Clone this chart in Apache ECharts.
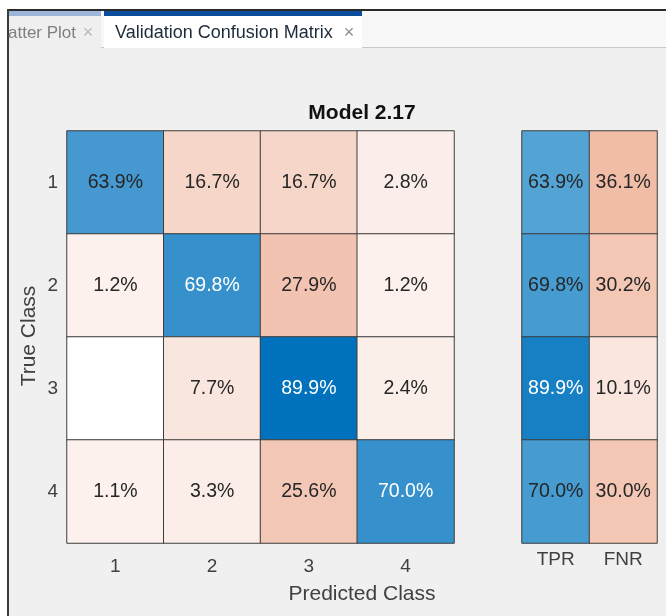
<!DOCTYPE html>
<html>
<head>
<meta charset="utf-8">
<script src="https://cdn.jsdelivr.net/npm/echarts@6/dist/echarts.min.js"></script>
<style>
html,body{margin:0;padding:0;background:#f0f0f0;}
#chart{width:666px;height:616px;}
</style>
</head>
<body>
<div id="chart"></div>
<script>
// ---- data ----
const predictedClasses = ['1', '2', '3', '4'];
const trueClasses = ['1', '2', '3', '4'];
const summaryColumns = ['TPR', 'FNR'];
const class1Row = [63.9, 16.7, 16.7, 2.8];
const class2Row = [1.2, 69.8, 27.9, 1.2];
const class3Row = [0, 7.7, 89.9, 2.4];
const class4Row = [1.1, 3.3, 25.6, 70.0];
const tprValues = [63.9, 69.8, 89.9, 70.0];
const fnrValues = [36.1, 30.2, 10.1, 30.0];
const chartTitle = 'Model 2.17';
const xAxisTitle = 'Predicted Class';
const yAxisTitle = 'True Class';
const tabLabels = ['atter Plot', 'Validation Confusion Matrix'];

// ---- colour scales ----
const FONT = '"Liberation Sans", Arial, Helvetica, sans-serif';
const rows = [class1Row, class2Row, class3Row, class4Row];
const diagMax = Math.max(...rows.map((r, i) => r[i]));
function mix(c0, c1, t) {
  t = Math.max(0, Math.min(1, t));
  return c0.map((v, k) => Math.round(v + (c1[k] - v) * t));
}
function scale(c0, c1, max) {
  return v => v === 0 ? [255, 255, 255] : mix(c0, c1, v / max);
}
const diagScale = scale([238, 249, 255], [0, 114, 189], diagMax);
const offScale = scale([252, 243, 240], [217, 83, 25], 93);
const tprScale = scale([232, 250, 255], [0, 114, 189], 100);
const fnrScale = scale([254, 246, 243], [217, 83, 25], 104);
function item(x, y, v, sc) {
  const c = sc(v);
  const lum = 0.299 * c[0] + 0.587 * c[1] + 0.114 * c[2];
  return {
    value: [x, y, v],
    itemStyle: { color: 'rgb(' + c.join(',') + ')' },
    label: { color: lum < 130 ? '#ffffff' : '#262626' }
  };
}
const mainData = [];
rows.forEach((r, y) => r.forEach((v, x) => mainData.push(item(x, y, v, x === y ? diagScale : offScale))));
const sideData = [];
tprValues.forEach((v, y) => sideData.push(item(0, y, v, tprScale)));
fnrValues.forEach((v, y) => sideData.push(item(1, y, v, fnrScale)));

const cellLabel = {
  show: true,
  fontSize: 19.5,
  fontFamily: FONT,
  formatter: p => p.value[2] === 0 ? '' : p.value[2].toFixed(1) + '%'
};
const cellStyle = { borderColor: '#3c3c3c', borderWidth: 1 };
const tickLabel = { fontSize: 19, color: '#404040', fontFamily: FONT };

const chart = echarts.init(document.getElementById('chart'), null, { renderer: 'canvas' });
chart.setOption({
  backgroundColor: '#f0f0f0',
  animation: false,
  textStyle: { fontFamily: FONT },
  title: {
    text: chartTitle,
    left: 362, top: 103, padding: 0,
    textAlign: 'center',
    textStyle: { fontSize: 21, fontWeight: 'bold', color: '#111111', fontFamily: FONT }
  },
  grid: [
    { left: 67, top: 131, width: 387, height: 412 },
    { left: 522, top: 131, width: 135, height: 412 }
  ],
  xAxis: [
    { type: 'category', gridIndex: 0, data: predictedClasses, position: 'bottom',
      axisLine: { show: false }, axisTick: { show: false }, splitLine: { show: false },
      axisLabel: Object.assign({ margin: 14 }, tickLabel) },
    { type: 'category', gridIndex: 1, data: summaryColumns, position: 'bottom',
      axisLine: { show: false }, axisTick: { show: false }, splitLine: { show: false },
      axisLabel: Object.assign({ margin: 7 }, tickLabel) }
  ],
  yAxis: [
    { type: 'category', gridIndex: 0, data: trueClasses, inverse: true,
      axisLine: { show: false }, axisTick: { show: false }, splitLine: { show: false },
      axisLabel: Object.assign({ margin: 9 }, tickLabel) },
    { type: 'category', gridIndex: 1, data: trueClasses, inverse: true,
      axisLine: { show: false }, axisTick: { show: false }, splitLine: { show: false },
      axisLabel: { show: false } }
  ],
  series: [
    { type: 'heatmap', xAxisIndex: 0, yAxisIndex: 0, data: mainData,
      label: cellLabel, itemStyle: cellStyle, emphasis: { disabled: true } },
    { type: 'heatmap', xAxisIndex: 1, yAxisIndex: 1, data: sideData,
      label: cellLabel, itemStyle: cellStyle, emphasis: { disabled: true } }
  ],
  graphic: [
    { type: 'rect', shape: { x: 0, y: 0, width: 666, height: 10 }, style: { fill: '#ffffff' }, silent: true },
    { type: 'rect', shape: { x: 0, y: 0, width: 7, height: 616 }, style: { fill: '#ffffff' }, silent: true },
    { type: 'rect', shape: { x: 9, y: 11, width: 657, height: 36 }, style: { fill: '#f8f8f8' }, silent: true },
    { type: 'rect', shape: { x: 9, y: 47, width: 657, height: 1 }, style: { fill: '#c8c8c8' }, silent: true },
    { type: 'rect', shape: { x: 9, y: 11, width: 92, height: 37 }, style: { fill: '#efefef' }, silent: true },
    { type: 'rect', shape: { x: 9, y: 11, width: 92, height: 5 }, style: { fill: '#9cb6d8' }, silent: true },
    { type: 'rect', shape: { x: 104, y: 11, width: 258, height: 37 }, style: { fill: '#ffffff' }, silent: true },
    { type: 'rect', shape: { x: 104, y: 11, width: 258, height: 5 }, style: { fill: '#0b4c9c' }, silent: true },
    { type: 'rect', shape: { x: 7, y: 9, width: 659, height: 2 }, style: { fill: '#2a2a2a' }, silent: true },
    { type: 'rect', shape: { x: 7, y: 9, width: 2, height: 607 }, style: { fill: '#3a3a3a' }, silent: true },
    { type: 'text', x: 8, y: 33, silent: true,
      style: { text: tabLabels[0], font: '17px ' + FONT, fill: '#7f7f7f', textAlign: 'left', textVerticalAlign: 'middle' } },
    { type: 'text', x: 88, y: 33, silent: true,
      style: { text: '×', font: '18px ' + FONT, fill: '#b8b8b8', textAlign: 'center', textVerticalAlign: 'middle' } },
    { type: 'text', x: 115, y: 33, silent: true,
      style: { text: tabLabels[1], font: '18px ' + FONT, fill: '#1d2b3a', textAlign: 'left', textVerticalAlign: 'middle' } },
    { type: 'text', x: 349, y: 33, silent: true,
      style: { text: '×', font: '18px ' + FONT, fill: '#8c8c8c', textAlign: 'center', textVerticalAlign: 'middle' } },
    { type: 'text', x: 362, y: 594, silent: true,
      style: { text: xAxisTitle, font: '21px ' + FONT, fill: '#404040', textAlign: 'center', textVerticalAlign: 'middle' } },
    { type: 'text', x: 29, y: 336, rotation: Math.PI / 2, silent: true,
      style: { text: yAxisTitle, font: '21px ' + FONT, fill: '#404040', textAlign: 'center', textVerticalAlign: 'middle' } }
  ]
});
</script>
</body>
</html>
